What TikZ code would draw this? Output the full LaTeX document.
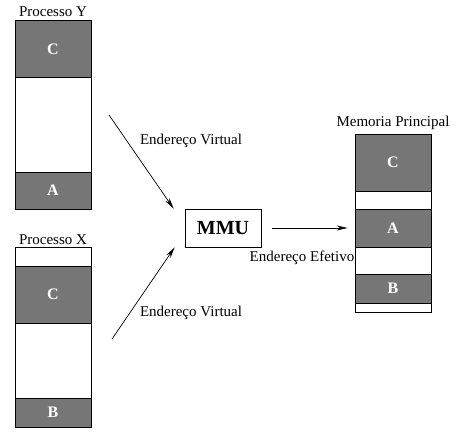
\documentclass[tikz,border=0pt]{standalone}
\usepackage{fontspec}
\setmainfont{Liberation Serif}
\usetikzlibrary{arrows.meta}
\definecolor{blockgray}{RGB}{118,118,118}
\tikzset{
  seg/.style={draw=black, line width=0.8pt, fill=blockgray, text=white,
    minimum width=76pt, inner sep=0pt, font=\fontsize{16}{16}\selectfont\bfseries},
  gap/.style={draw=black, line width=0.8pt, fill=white,
    minimum width=76pt, inner sep=0pt},
  lbl/.style={font=\fontsize{15}{15}\selectfont, inner sep=0pt},
  unit/.style={draw=black, line width=0.8pt, minimum width=76pt, minimum height=38pt,
    inner sep=0pt, font=\fontsize{20}{20}\selectfont\bfseries},
  flow/.style={line width=0.7pt, -{Stealth[length=11pt,width=5pt]}}
}
\begin{document}
\begin{tikzpicture}[x=1pt,y=-1pt]
\useasboundingbox (0,0) rectangle (457,439);

% Processo Y
\node[lbl] (ly) at (53,12) {Processo Y};
\node[seg, minimum height=56.3pt] (yc) at (53,48.85) {C};
\node[gap, minimum height=95pt] (yw) at (53,124.5) {};
\node[seg, minimum height=37pt] (ya) at (53,190.5) {A};

% Processo X
\node[lbl] (lx) at (53,240) {Processo X};
\node[gap, minimum height=19pt] (xw1) at (53,256.5) {};
\node[seg, minimum height=57pt] (xc) at (53,294.5) {C};
\node[gap, minimum height=75pt] (xw2) at (53,360.5) {};
\node[seg, minimum height=29pt] (xb) at (53,412.5) {B};

% Memoria Principal
\node[lbl] (lm) at (393,123) {Memoria Principal};
\node[seg, minimum height=57pt] (mc) at (393,162.5) {C};
\node[gap, minimum height=18pt] (mw1) at (393,200) {};
\node[seg, minimum height=38pt] (ma) at (393,228) {A};
\node[gap, minimum height=27pt] (mw2) at (393,260.5) {};
\node[seg, minimum height=29pt] (mb) at (393,288.5) {B};
\node[gap, minimum height=9pt] (mw3) at (393,307.5) {};

% MMU
\node[unit] (mmu) at (223,228) {MMU};

% Virtual address arrows
\coordinate (vy) at (109,115);
\coordinate (vx) at (112,339);
\draw[flow] (vy) -- ([xshift=-11pt]mmu.north west);
\draw[flow] (vx) -- ([xshift=-10pt]mmu.south west);
\node[lbl] (tvy) at (191,141) {Endereço Virtual};
\node[lbl] (tvx) at (191,313) {Endereço Virtual};

% Effective address arrow
\draw[flow] ([xshift=11pt]mmu.east) -- ([xshift=-7pt]ma.west);
\node[lbl] (tef) at (302,258) {Endereço Efetivo};
\end{tikzpicture}
\end{document}
